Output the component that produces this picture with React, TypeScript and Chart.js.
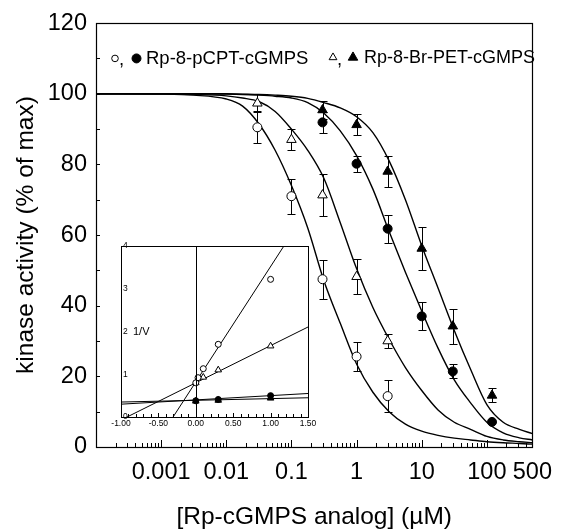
import React, { useEffect, useRef } from "react";
import { Chart, registerables } from "chart.js";

Chart.register(...registerables);

const FONT = "'Liberation Sans', Arial, Helvetica, sans-serif";

// ---------- main plot data ----------
const concOpenCircle = [0.03, 0.1, 0.3, 1, 3];
const actOpenCircle = [90.5, 71, 47.5, 25.6, 14.4];
const errOpenCircle = [4.5, 5, 5.5, 4, 4.5];

const concOpenTriangle = [0.03, 0.1, 0.3, 1, 3];
const actOpenTriangle = [97.3, 87, 71.3, 48.2, 30];
const errOpenTriangle = [2.5, 3, 6, 5, 2];

const concFilledCircle = [0.3, 1, 3, 10, 30, 120];
const actFilledCircle = [91.9, 80.2, 61.8, 37, 21.4, 7.1];
const errFilledCircle = [3, 2.3, 4, 4, 2, 0];

const concFilledTriangle = [0.3, 1, 3, 10, 30, 120];
const actFilledTriangle = [95.4, 91.2, 78, 56.2, 34.2, 14.6];
const errFilledTriangle = [2.5, 3, 4.5, 6, 5, 2];

// fitted curves
const curveConc = [
  0.0001, 0.001, 0.00316, 0.01, 0.0178, 0.0316, 0.0562, 0.1, 0.178, 0.316, 0.562, 1,
  1.78, 3.16, 5.62, 10, 17.8, 31.6, 56.2, 100, 178, 316, 500,
];
const curveOpenCircle = [
  100, 99.9, 99.6, 98.5, 96.5, 91.5, 84, 74, 62, 47, 35, 23.5, 15.5, 10, 6.5, 4.5, 3.3, 2.5,
  2, 1.5, 1.2, 1, 0.8,
];
const curveOpenTriangle = [
  100, 100, 99.8, 99.4, 98.8, 97.8, 95, 90, 84, 76, 63.5, 50.5, 39.5, 30.5, 22.5, 16, 10.5, 7,
  5, 3, 2, 1.5, 1.2,
];
const curveFilledCircle = [
  100, 100, 100, 99.9, 99.8, 99.6, 99.3, 98.8, 97.5, 94.5, 89.5, 82.5, 73, 61, 49.5, 38.5, 28,
  19, 12.5, 7, 4, 2.6, 2,
];
const curveFilledTriangle = [
  100, 100, 100, 100, 99.9, 99.8, 99.6, 99.3, 98.7, 97.5, 96, 93.5, 89, 81, 70, 57, 45, 33, 22,
  12, 7, 5, 3.8,
];

const xTickValues = [0.001, 0.01, 0.1, 1, 10, 100, 500];
const xTickLabels = ["0.001", "0.01", "0.1", "1", "10", "100", "500"];

const legendLeft = "Rp-8-pCPT-cGMPS";
const legendRight = "Rp-8-Br-PET-cGMPS";
const xTitle = "[Rp-cGMPS analog] (\u00b5M)";
const yTitle = "kinase activity (% of max)";

// ---------- inset data ----------
const insetLineX = [-1, 1.5];
const insetLineOpenCircle = [-1.88, 4.87];
const insetLineOpenTriangle = [-0.07, 2.105];
const insetLineFilledCircle = [0.3, 0.55];
const insetLineFilledTriangle = [0.35, 0.45];

const insetXOpenCircle = [0, 0.03, 0.1, 0.3, 1.0];
const insetYOpenCircle = [0.8, 0.92, 1.13, 1.7, 3.22];
const insetXOpenTriangle = [0, 0.1, 0.3, 1.0];
const insetYOpenTriangle = [0.8, 0.93, 1.1, 1.66];
const insetXFilled = [0, 0.3, 1.0];
const insetYFilledCircle = [0.38, 0.41, 0.5];
const insetYFilledTriangle = [0.37, 0.39, 0.44];
const insetYLabel = "1/V";

const zip = (xs: number[], ys: number[]) => xs.map((x, i) => ({ x, y: ys[i] }));

function triangle(ctx: CanvasRenderingContext2D, x: number, y: number, r: number, fill: boolean) {
  ctx.beginPath();
  ctx.moveTo(x, y - r);
  ctx.lineTo(x + r * 0.866, y + r * 0.5);
  ctx.lineTo(x - r * 0.866, y + r * 0.5);
  ctx.closePath();
  ctx.fillStyle = fill ? "#000" : "#fff";
  ctx.fill();
  ctx.stroke();
}
function circle(ctx: CanvasRenderingContext2D, x: number, y: number, r: number, fill: boolean) {
  ctx.beginPath();
  ctx.arc(x, y, r, 0, Math.PI * 2);
  ctx.fillStyle = fill ? "#000" : "#fff";
  ctx.fill();
  ctx.stroke();
}

const mainDecor = {
  id: "mainDecor",
  beforeDatasetsDraw(chart: any) {
    const { ctx } = chart;
    const xs = chart.scales.x;
    const ys = chart.scales.y;
    ctx.save();
    ctx.strokeStyle = "#000";
    ctx.lineWidth = 1;
    chart.data.datasets.forEach((ds: any) => {
      if (!ds.errors) return;
      ds.data.forEach((p: any, i: number) => {
        const e = ds.errors[i];
        if (!e) return;
        const x = Math.round(xs.getPixelForValue(p.x)) + 0.5;
        const y1 = Math.round(ys.getPixelForValue(p.y + e)) + 0.5;
        const y2 = Math.round(ys.getPixelForValue(p.y - e)) + 0.5;
        ctx.beginPath();
        ctx.moveTo(x, y1);
        ctx.lineTo(x, y2);
        ctx.moveTo(x - 4, y1);
        ctx.lineTo(x + 4, y1);
        ctx.moveTo(x - 4, y2);
        ctx.lineTo(x + 4, y2);
        ctx.stroke();
      });
    });
    ctx.restore();
  },
  afterDraw(chart: any) {
    const { ctx, chartArea: a } = chart;
    const xs = chart.scales.x;
    const ys = chart.scales.y;
    ctx.save();
    ctx.strokeStyle = "#000";
    ctx.lineWidth = 1.2;
    ctx.strokeRect(Math.round(a.left) + 0.5, Math.round(a.top) + 0.5, Math.round(a.right - a.left), Math.round(a.bottom - a.top));
    ctx.lineWidth = 1;
    // x ticks (inward)
    ctx.beginPath();
    for (let d = -4; d <= 2; d++) {
      for (let m = 1; m <= 9; m++) {
        const v = m * Math.pow(10, d);
        if (v <= xs.min * 1.0001 || v > xs.max) continue;
        const px = Math.round(xs.getPixelForValue(v)) + 0.5;
        const len = m === 1 ? 7 : 4;
        ctx.moveTo(px, a.bottom);
        ctx.lineTo(px, a.bottom - len);
      }
    }
    // y ticks (inward)
    for (let v = 10; v < 120; v += 10) {
      const py = Math.round(ys.getPixelForValue(v)) + 0.5;
      ctx.moveTo(a.left, py);
      ctx.lineTo(a.left + 4, py);
    }
    ctx.stroke();

    // legend
    const ly = ys.getPixelForValue(110);
    ctx.lineWidth = 1;
    ctx.strokeStyle = "#000";
    circle(ctx, 115, ly, 3.3, false);
    circle(ctx, 136.5, ly, 4.5, true);
    triangle(ctx, 333, ly - 1, 4.5, false);
    triangle(ctx, 353, ly - 1, 5.5, true);
    ctx.fillStyle = "#000";
    ctx.font = `18.5px ${FONT}`;
    ctx.textBaseline = "middle";
    ctx.textAlign = "left";
    ctx.fillText(",", 119, ly + 1);
    ctx.fillText(",", 337, ly + 1);
    ctx.fillText(legendLeft, 146, ly);
    ctx.font = `18px ${FONT}`;
    ctx.fillText(legendRight, 364, ly);
    ctx.restore();
  },
};

const insetDecor = {
  id: "insetDecor",
  afterDraw(chart: any) {
    const { ctx, chartArea: a } = chart;
    const xs = chart.scales.x;
    const ys = chart.scales.y;
    ctx.save();
    ctx.strokeStyle = "#000";
    ctx.lineWidth = 1;
    ctx.strokeRect(Math.round(a.left) + 0.5, Math.round(a.top) + 0.5, Math.round(a.right - a.left), Math.round(a.bottom - a.top));
    ctx.beginPath();
    const zx = Math.round(xs.getPixelForValue(0)) + 0.5;
    ctx.moveTo(zx, a.top);
    ctx.lineTo(zx, a.bottom);
    for (let i = -10; i <= 15; i++) {
      const px = Math.round(xs.getPixelForValue(i / 10)) + 0.5;
      const len = i % 5 === 0 ? 4 : 3;
      ctx.moveTo(px, a.bottom);
      ctx.lineTo(px, a.bottom - len);
    }
    ctx.stroke();
    ctx.fillStyle = "#000";
    ctx.font = `11px ${FONT}`;
    ctx.textBaseline = "middle";
    ctx.textAlign = "left";
    ctx.fillText(insetYLabel, xs.getPixelForValue(-0.84), ys.getPixelForValue(2));
    ctx.restore();
  },
};

export default function App() {
  const mainRef = useRef<HTMLCanvasElement>(null);
  const insetRef = useRef<HTMLCanvasElement>(null);

  useEffect(() => {
    const curveDs = (vals: number[]) => ({
      type: "line" as const,
      data: zip(curveConc, vals),
      borderColor: "#000",
      borderWidth: 1.4,
      pointRadius: 0,
      cubicInterpolationMode: "monotone" as const,
      fill: false,
      order: 2,
    });
    const markDs = (xs: number[], ys: number[], errs: number[], style: string, filled: boolean) => ({
      type: "scatter" as const,
      data: zip(xs, ys),
      errors: errs,
      pointStyle: style,
      pointRadius: style === "triangle" ? 5.5 : 4.5,
      pointBackgroundColor: filled ? "#000" : "#fff",
      pointBorderColor: "#000",
      pointBorderWidth: 1,
      showLine: false,
      order: 1,
    });

    const main = new Chart(mainRef.current!, {
      type: "scatter",
      data: {
        datasets: [
          curveDs(curveOpenCircle),
          curveDs(curveOpenTriangle),
          curveDs(curveFilledCircle),
          curveDs(curveFilledTriangle),
          markDs(concOpenCircle, actOpenCircle, errOpenCircle, "circle", false),
          markDs(concOpenTriangle, actOpenTriangle, errOpenTriangle, "triangle", false),
          markDs(concFilledCircle, actFilledCircle, errFilledCircle, "circle", true),
          markDs(concFilledTriangle, actFilledTriangle, errFilledTriangle, "triangle", true),
        ] as any,
      },
      options: {
        responsive: false,
        animation: false,
        events: [],
        layout: { padding: { left: 0, top: 19, right: 21, bottom: 0 } },
        plugins: { legend: { display: false }, tooltip: { enabled: false } },
        scales: {
          x: {
            type: "logarithmic",
            position: "bottom",
            min: 0.0001,
            max: 500,
            afterBuildTicks: (s: any) => {
              s.ticks = xTickValues.map((v) => ({ value: v }));
            },
            afterFit: (s: any) => {
              s.height = 85;
            },
            grid: { display: false, drawTicks: false },
            border: { display: false },
            ticks: {
              autoSkip: false,
              maxRotation: 0,
              padding: 11,
              color: "#000",
              font: { family: FONT, size: 23.5 },
              callback: (_v: any, i: number) => xTickLabels[i],
            },
            title: {
              display: true,
              text: xTitle,
              color: "#000",
              font: { family: FONT, size: 24.5 },
              padding: { top: 0, bottom: 0 },
            },
          },
          y: {
            type: "linear",
            min: 0,
            max: 120,
            afterFit: (s: any) => {
              s.width = 96;
            },
            grid: { display: false, drawTicks: false },
            border: { display: false },
            ticks: {
              stepSize: 20,
              padding: 9,
              color: "#000",
              font: { family: FONT, size: 23.5 },
            },
            title: {
              display: true,
              text: yTitle,
              color: "#000",
              font: { family: FONT, size: 24.5 },
              padding: { top: 12, bottom: 0 },
            },
          },
        },
      } as any,
      plugins: [mainDecor],
    });

    const lineDs = (ys: number[]) => ({
      type: "line" as const,
      data: zip(insetLineX, ys),
      borderColor: "#000",
      borderWidth: 1,
      pointRadius: 0,
      fill: false,
      order: 2,
    });
    const insetMark = (xs: number[], ys: number[], style: string, filled: boolean) => ({
      type: "scatter" as const,
      data: zip(xs, ys),
      pointStyle: style,
      pointRadius: style === "triangle" ? 3.8 : 3,
      pointBackgroundColor: filled ? "#000" : "#fff",
      pointBorderColor: "#000",
      pointBorderWidth: 1,
      showLine: false,
      order: 1,
    });

    const inset = new Chart(insetRef.current!, {
      type: "scatter",
      data: {
        datasets: [
          lineDs(insetLineOpenCircle),
          lineDs(insetLineOpenTriangle),
          lineDs(insetLineFilledCircle),
          lineDs(insetLineFilledTriangle),
          insetMark(insetXFilled, insetYFilledCircle, "circle", true),
          insetMark(insetXFilled, insetYFilledTriangle, "triangle", true),
          insetMark(insetXOpenCircle, insetYOpenCircle, "circle", false),
          insetMark(insetXOpenTriangle, insetYOpenTriangle, "triangle", false),
        ] as any,
      },
      options: {
        responsive: false,
        animation: false,
        events: [],
        layout: { padding: { left: 0, top: 10, right: 12, bottom: 0 } },
        plugins: { legend: { display: false }, tooltip: { enabled: false } },
        scales: {
          x: {
            type: "linear",
            min: -1,
            max: 1.5,
            afterFit: (s: any) => {
              s.height = 19;
            },
            grid: { display: false, drawTicks: false },
            border: { display: false },
            ticks: {
              stepSize: 0.5,
              maxRotation: 0,
              autoSkip: false,
              padding: 2,
              color: "#000",
              font: { family: FONT, size: 8.5 },
              callback: (v: any) => Number(v).toFixed(2),
            },
          },
          y: {
            type: "linear",
            min: 0,
            max: 4,
            afterFit: (s: any) => {
              s.width = 16;
            },
            grid: { display: false, drawTicks: false },
            border: { display: false },
            ticks: {
              stepSize: 1,
              mirror: true,
              padding: 2,
              color: "#000",
              font: { family: FONT, size: 8.5 },
            },
          },
        },
      } as any,
      plugins: [insetDecor],
    });

    return () => {
      main.destroy();
      inset.destroy();
    };
  }, []);

  return (
    <div style={{ position: "fixed", left: 0, top: 0, width: 563, height: 532, background: "#fff" }}>
      <canvas ref={mainRef} width={563} height={532} style={{ position: "absolute", left: 0, top: 0 }} />
      <canvas ref={insetRef} width={215} height={200} style={{ position: "absolute", left: 105, top: 236 }} />
    </div>
  );
}
